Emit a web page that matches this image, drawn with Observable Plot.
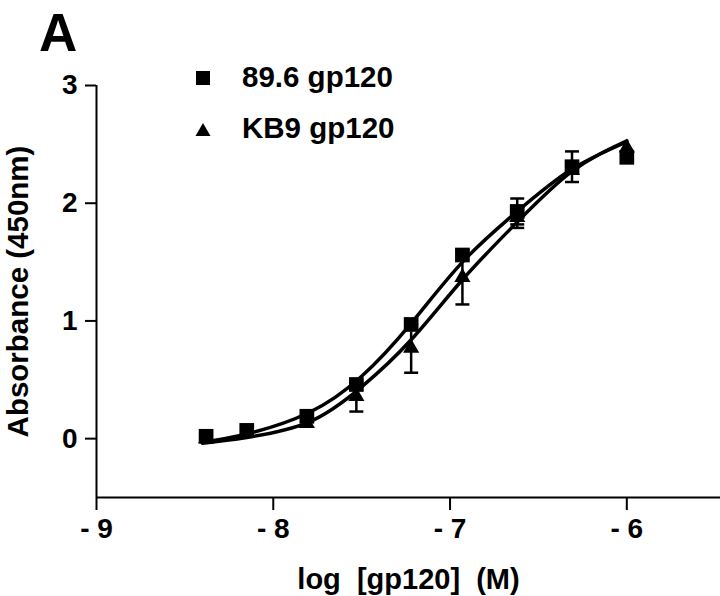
<!DOCTYPE html>
<html><head><meta charset="utf-8">
<script src="https://cdn.jsdelivr.net/npm/d3@7"></script>
<script src="https://cdn.jsdelivr.net/npm/@observablehq/plot@0.6"></script>
<style>
body{margin:0;background:#fff;}
#wrap{position:relative;width:720px;height:596px;font-family:"Liberation Sans",Arial,sans-serif;font-weight:bold;color:#000;}
#wrap svg{position:absolute;left:0;top:0;}
.abs{position:absolute;white-space:nowrap;}
</style></head><body><div id="wrap"></div>
<script>
// ---- data ----
const panelLabel = "A";
const series = ["89.6 gp120", "KB9 gp120"];
const xDomain = [-9, -5.47];
const yDomain = [-0.5, 3];
const xTicks = [-9, -8, -7, -6];
const xTickLabels = ["- 9", "- 8", "- 7", "- 6"];
const yTicks = [0, 1, 2, 3];
const yTickLabels = ["0", "1", "2", "3"];
const xLabel = "log\u00a0 [gp120]\u00a0 (M)";
const yLabel = "Absorbance (450nm)";

const logConc = [-8.38, -8.15, -7.81, -7.53, -7.22, -6.93, -6.62, -6.31, -6.0];
const abs896 = [0.02, 0.07, 0.19, 0.46, 0.97, 1.56, 1.93, 2.31, 2.39];
const err896 = [0, 0, 0, 0, 0, 0, 0.11, 0.13, 0];
const absKB9 = [0.0, 0.05, 0.13, 0.36, 0.77, 1.37, 1.88, 2.28, 2.47];
const errKB9 = [0, 0, 0, 0.13, 0.21, 0.23, 0.09, 0, 0];

const fitX = [-8.4, -8.15, -7.8, -7.5, -7.22, -6.93, -6.62, -6.31, -6.0];
const fit896 = [-0.03, 0.04, 0.22, 0.53, 0.98, 1.50, 1.93, 2.29, 2.52];
const fitKB9 = [-0.04, 0.01, 0.14, 0.44, 0.84, 1.35, 1.84, 2.27, 2.53];

// ---- tables ----
const pts896 = logConc.map((x, i) => ({x, y: abs896[i], e: err896[i], s: series[0]}));
const ptsKB9 = logConc.map((x, i) => ({x, y: absKB9[i], e: errKB9[i], s: series[1]}));
const errPts = [...ptsKB9, ...pts896].filter(d => d.e > 0);
const fits = [
  ...fitX.map((x, i) => ({x, y: fit896[i], s: series[0]})),
  ...fitX.map((x, i) => ({x, y: fitKB9[i], s: series[1]}))
];
const capSymbol = {draw(ctx) { ctx.moveTo(-7, 0); ctx.lineTo(7, 0); }};

const font = "'Liberation Sans', Arial, sans-serif";
const chart = Plot.plot({
  width: 720, height: 596,
  marginLeft: 96, marginRight: 0, marginTop: 85, marginBottom: 99,
  style: {fontFamily: font, fontWeight: "bold", background: "#fff", color: "#000", overflow: "visible"},
  x: {domain: xDomain},
  y: {domain: yDomain},
  marks: [
    Plot.ruleX([xDomain[0]], {stroke: "#000", strokeWidth: 2}),
    Plot.ruleY([yDomain[0]], {stroke: "#000", strokeWidth: 2}),
    Plot.axisY({ticks: yTicks, tickSize: 11, tickPadding: 8, fontSize: 28, fontWeight: "bold", strokeWidth: 2, label: null,
      tickFormat: d => yTickLabels[yTicks.indexOf(d)]}),
    Plot.axisX({ticks: xTicks, tickSize: 13, tickPadding: 8, fontSize: 28, fontWeight: "bold", strokeWidth: 2, label: null,
      tickFormat: d => xTickLabels[xTicks.indexOf(d)]}),
    Plot.text([yLabel], {text: d => d, frameAnchor: "left", textAnchor: "middle", rotate: -90, dx: -78, fontSize: 29.5, fontWeight: "bold", lineAnchor: "middle"}),
    Plot.text([xLabel], {text: d => d, frameAnchor: "bottom", textAnchor: "middle", dy: 71, fontSize: 29, fontWeight: "bold", lineAnchor: "top"}),
    Plot.ruleX(errPts, {x: "x", y1: d => d.y - d.e, y2: d => d.y + d.e, stroke: "#000", strokeWidth: 2.5}),
    Plot.dot(errPts, {x: "x", y: d => d.y - d.e, symbol: capSymbol, stroke: "#000", strokeWidth: 2.5, fill: "none"}),
    Plot.dot(errPts, {x: "x", y: d => d.y + d.e, symbol: capSymbol, stroke: "#000", strokeWidth: 2.5, fill: "none"}),
    Plot.line(fits, {x: "x", y: "y", z: "s", stroke: "#000", strokeWidth: 3.5, curve: "natural"}),
    Plot.dot(ptsKB9, {x: "x", y: "y", symbol: "triangle", r: 6, fill: "#000", stroke: "none"}),
    Plot.dot(pts896, {x: "x", y: "y", symbol: "square", r: 8.3, fill: "#000", stroke: "none"})
  ]
});
const wrap = document.getElementById("wrap");
wrap.appendChild(chart);

// panel label
const a = document.createElement("div");
a.className = "abs"; a.textContent = panelLabel;
a.style.cssText += "left:39px;top:6px;font-size:53px;line-height:53px;";
wrap.appendChild(a);

// legend
const legend = [
  {icon: '<svg width="16" height="16"><rect x="1" y="1" width="14" height="14" fill="#000"/></svg>', iconLeft: 195, iconTop: 70, textTop: 62},
  {icon: '<svg width="16" height="15"><path d="M8 1 L15.5 14 L0.5 14 Z" fill="#000"/></svg>', iconLeft: 195, iconTop: 122, textTop: 113}
];
legend.forEach((l, i) => {
  const ic = document.createElement("div");
  ic.className = "abs"; ic.innerHTML = l.icon;
  ic.style.cssText += `left:${l.iconLeft}px;top:${l.iconTop}px;line-height:0;`;
  wrap.appendChild(ic);
  const t = document.createElement("div");
  t.className = "abs"; t.textContent = series[i];
  t.style.cssText += `left:242px;top:${l.textTop}px;font-size:29.5px;line-height:29.5px;`;
  wrap.appendChild(t);
});
</script></body></html>
